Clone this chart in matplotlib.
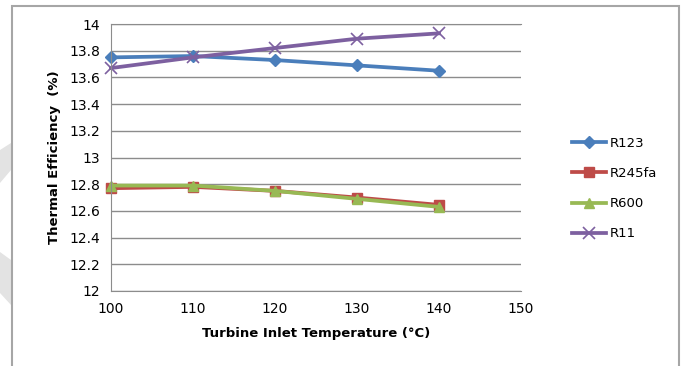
import matplotlib.pyplot as plt
from matplotlib.patches import Polygon, Rectangle

temps = [100, 110, 120, 130, 140]
r123 = [13.75, 13.76, 13.73, 13.69, 13.65]
r245fa = [12.77, 12.78, 12.75, 12.70, 12.645]
r600 = [12.79, 12.79, 12.75, 12.69, 12.63]
r11 = [13.67, 13.75, 13.82, 13.89, 13.93]

W, H = 683, 366
fig = plt.figure(figsize=(W / 100, H / 100), dpi=100)


def px(x, y):
    return (x / W, 1 - y / H)


# faint watermark shapes peeking out on the left
for pts in [[(0, 150), (11, 143), (11, 170), (0, 183)],
            [(0, 252), (11, 260), (11, 305), (0, 293)]]:
    fig.patches.append(Polygon([px(*p) for p in pts], closed=True,
                               transform=fig.transFigure, facecolor='#e3e3e3',
                               edgecolor='none', zorder=0))
# chart-area border
fig.patches.append(Rectangle(px(12, 380), (679 - 12) / W, (380 - 6) / H,
                             transform=fig.transFigure, fill=False,
                             edgecolor='#a6a6a6', linewidth=1.5, zorder=1))

ax = fig.add_axes([111 / W, 1 - 291 / H, 410 / W, 267 / H])

ax.plot(temps, r123, color='#4a7ebb', lw=2.7, marker='D', ms=6, label='R123', clip_on=False)
ax.plot(temps, r245fa, color='#be4b48', lw=2.7, marker='s', ms=7, label='R245fa', clip_on=False)
ax.plot(temps, r600, color='#98b954', lw=2.7, marker='^', ms=7, label='R600', clip_on=False)
ax.plot(temps, r11, color='#7d60a0', lw=2.7, marker='x', ms=8, mew=1.2, label='R11', clip_on=False)

ax.set_xlim(100, 150)
ax.set_ylim(12, 14)
ax.set_xticks(range(100, 151, 10))
ax.set_yticks([12 + 0.2 * i for i in range(11)])
ax.set_yticklabels(['12', '12.2', '12.4', '12.6', '12.8', '13', '13.2',
                    '13.4', '13.6', '13.8', '14'])
ax.grid(axis='y', color='#8c8c8c', lw=1)
ax.set_axisbelow(True)
ax.spines['right'].set_visible(False)
for s in ['top', 'left', 'bottom']:
    ax.spines[s].set_color('#8c8c8c')
ax.tick_params(length=0, labelsize=10, pad=8)

ax.set_xlabel('Turbine Inlet Temperature (°C)', fontsize=9.5, fontweight='bold', labelpad=8)
ax.set_ylabel('Thermal Efficiency  (%)', fontsize=9.5, fontweight='bold', labelpad=6)

fig.legend(loc='upper left', bbox_to_anchor=(560 / W, 1 - 125 / H),
           frameon=False, fontsize=9.5, handlelength=2.6, labelspacing=1.3,
           handletextpad=0.3)

plt.savefig('out.png', dpi=100)
